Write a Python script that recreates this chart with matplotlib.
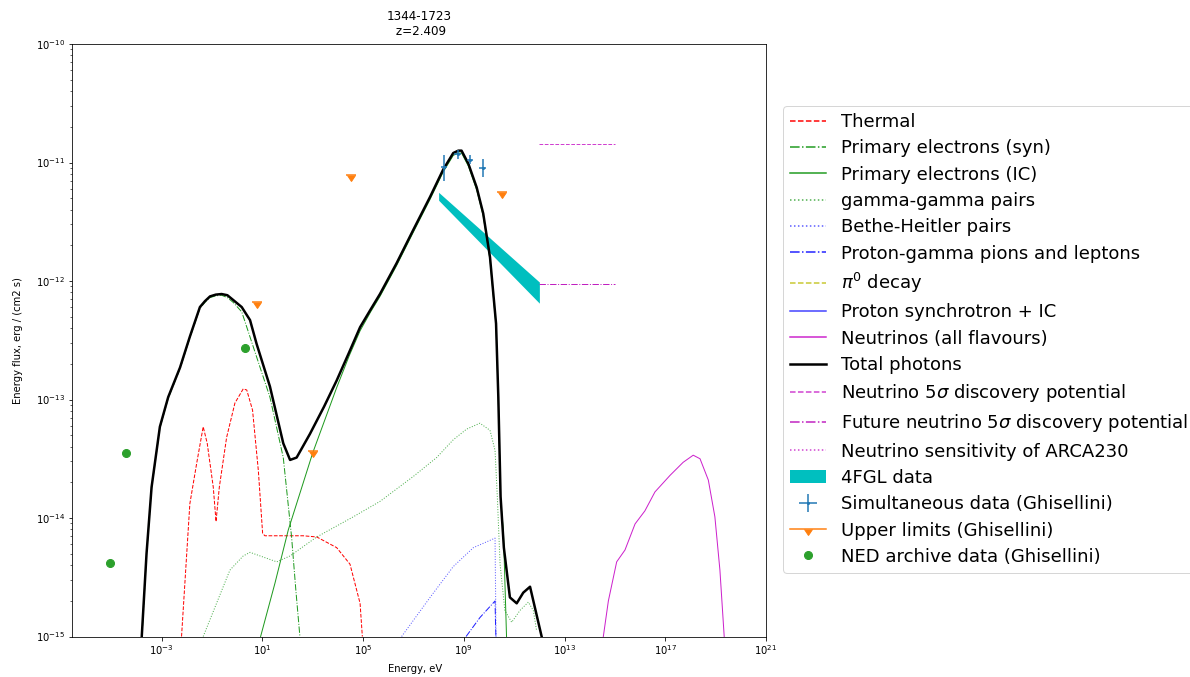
import numpy as np
import matplotlib
matplotlib.use("Agg")
import matplotlib.pyplot as plt
from matplotlib.ticker import NullLocator, LogLocator
from matplotlib.lines import Line2D

# ---- model curves (log10 E [eV], log10 flux [erg / (cm2 s)]) ----
total_logE = [-3.79, -3.60, -3.40, -3.07, -2.74, -2.27, -1.88, -1.48, -1.28, -1.08, -0.85,
              -0.62, -0.39, -0.16, 0.18, 0.51, 0.77, 1.30, 1.83, 2.10, 2.36, 2.89, 3.45,
              3.95, 4.45, 4.88, 5.30, 5.67, 6.33, 6.99, 7.66, 8.18, 8.58, 8.78, 8.91,
              9.18, 9.51, 9.77, 10.04, 10.28, 10.37, 10.46, 10.59, 10.83, 11.10, 11.36,
              11.63, 12.09]
total_logF = [-15.0, -14.3, -13.74, -13.23, -12.98, -12.73, -12.47, -12.22, -12.17, -12.13,
              -12.115, -12.11, -12.12, -12.16, -12.22, -12.33, -12.53, -12.89, -13.37,
              -13.51, -13.49, -13.29, -13.06, -12.84, -12.60, -12.39, -12.24, -12.11,
              -11.85, -11.57, -11.29, -11.06, -10.92, -10.90, -10.90, -11.01, -11.21,
              -11.43, -11.80, -12.36, -12.98, -13.82, -14.25, -14.67, -14.72, -14.63,
              -14.58, -15.0]

thermal_logE = [-2.21, -1.88, -1.61, -1.35, -1.19, -0.95, -0.84, -0.71, -0.42, -0.09, 0.24,
                0.38, 0.61, 0.84, 1.01, 1.10, 2.62, 3.16, 3.95, 4.48, 4.88, 4.97]
thermal_logF = [-15.0, -13.88, -13.54, -13.23, -13.37, -13.74, -14.03, -13.74, -13.32,
                -13.03, -12.91, -12.92, -13.09, -13.60, -14.13, -14.15, -14.15, -14.16,
                -14.25, -14.39, -14.72, -15.0]

syn_logE = [-3.78, -3.60, -3.40, -3.07, -2.74, -2.27, -1.88, -1.48, -1.28, -1.08, -0.85,
            -0.62, -0.39, -0.16, 0.18, 0.77, 1.30, 1.83, 2.16, 2.33, 2.49]
syn_logF = [-15.0, -14.31, -13.75, -13.24, -12.99, -12.74, -12.48, -12.23, -12.18, -12.14,
            -12.125, -12.12, -12.14, -12.18, -12.26, -12.64, -12.98, -13.49, -14.16,
            -14.61, -15.0]

ic_logE = [0.93, 1.50, 2.03, 3.00, 3.95, 4.45, 4.88, 5.30, 5.67, 6.33, 6.99, 7.66, 8.18,
           8.58, 8.78, 8.91, 9.18, 9.51, 9.77, 10.04, 10.28, 10.37, 10.46, 10.57, 10.70]
ic_logF = [-15.0, -14.55, -14.10, -13.45, -12.90, -12.63, -12.42, -12.26, -12.13, -11.87,
           -11.59, -11.31, -11.08, -10.94, -10.92, -10.92, -11.03, -11.23, -11.45, -11.82,
           -12.38, -13.00, -13.85, -14.10, -15.03]

gg_logE = [-1.35, -0.82, -0.29, 0.24, 0.51, 1.04, 1.57, 2.10, 3.16, 4.61, 5.67, 6.99, 7.92,
           8.58, 9.11, 9.64, 10.04, 10.24, 10.33, 10.44, 10.63, 10.90, 11.23, 11.56,
           11.76, 11.89]
gg_logF = [-15.0, -14.72, -14.44, -14.32, -14.29, -14.33, -14.37, -14.32, -14.16, -13.99,
           -13.86, -13.65, -13.49, -13.34, -13.25, -13.20, -13.26, -13.43, -13.82, -14.39,
           -14.78, -14.88, -14.78, -14.71, -14.78, -14.95]

bh_logE = [6.53, 7.66, 8.58, 9.38, 10.24, 10.26, 10.28]
bh_logF = [-15.0, -14.67, -14.41, -14.25, -14.17, -14.6, -15.05]

pg_logE = [9.09, 9.64, 10.24, 10.26, 10.28]
pg_logF = [-15.0, -14.84, -14.70, -14.9, -15.05]

nu_logE = [14.54, 14.74, 15.07, 15.40, 15.80, 16.19, 16.59, 17.19, 17.71, 18.11, 18.38,
           18.71, 18.97, 19.17, 19.34]
nu_logF = [-15.0, -14.70, -14.37, -14.27, -14.05, -13.94, -13.78, -13.64, -13.53, -13.47,
           -13.50, -13.68, -13.99, -14.44, -15.0]

# ---- neutrino telescope levels ----
disc_E = [1e12, 1e15]
disc_F = [1.43e-11, 1.43e-11]
future_E = [1e12, 1e15]
future_F = [9.5e-13, 9.5e-13]

# ---- 4FGL power-law band ----
fgl_E = [1e8, 1e12]
fgl_upper = [5.6e-12, 9.8e-13]
fgl_lower = [4.8e-12, 6.5e-13]

# ---- Ghisellini data ----
sim_logE = [8.22, 8.75, 9.24, 9.75]
sim_F = [9.2e-12, 1.18e-11, 1.05e-11, 8.9e-12]
sim_F_hi = [1.155e-11, 1.27e-11, 1.155e-11, 1.08e-11]
sim_F_lo = [7.0e-12, 1.08e-11, 9.7e-12, 7.6e-12]
sim_dlogE = 0.13

ul_logE = [0.77, 3.02, 4.51, 10.50]
ul_F = [6.6e-13, 3.7e-14, 7.9e-12, 5.6e-12]
ul_dlogE = 0.2

ned_E = [9.3e-6, 3.7e-5, 2.0]
ned_F = [4.2e-15, 3.55e-14, 2.7e-13]


def lin(v):
    return 10 ** np.asarray(v, dtype=float)


GREEN = '#1f9a1f'

fig = plt.figure(figsize=(1190 / 72, 677 / 72), dpi=72)
ax = fig.add_axes([72 / 1190, 1 - 636.5 / 677, (766 - 72) / 1190, (636.5 - 44) / 677])

h_th, = ax.plot(lin(thermal_logE), lin(thermal_logF), color='r', ls='--', lw=1)
h_syn, = ax.plot(lin(syn_logE), lin(syn_logF), color=GREEN, ls='-.', lw=1)
h_ic, = ax.plot(lin(ic_logE), lin(ic_logF), color=GREEN, ls='-', lw=1)
h_gg, = ax.plot(lin(gg_logE), lin(gg_logF), color=GREEN, ls=':', lw=1, alpha=0.8)
h_bh, = ax.plot(lin(bh_logE), lin(bh_logF), color='#3030ff', ls=':', lw=1, alpha=0.8)
h_pg, = ax.plot(lin(pg_logE), lin(pg_logF), color='#2020ff', ls='-.', lw=1)
h_pi, = ax.plot([], [], color='#c8c830', ls='--', lw=1)
h_ps, = ax.plot([], [], color='#4040ff', ls='-', lw=1)
h_nu, = ax.plot(lin(nu_logE), lin(nu_logF), color='#cc22cc', ls='-', lw=1)
h_tot, = ax.plot(lin(total_logE), lin(total_logF), color='k', ls='-', lw=2.5)
h_disc, = ax.plot(disc_E, disc_F, color='#d040d0', ls='--', lw=1)
h_fut, = ax.plot(future_E, future_F, color='#c020c0', ls='-.', lw=1)
h_sens, = ax.plot([], [], color='#d040d0', ls=':', lw=1)
h_fgl = ax.fill_between(fgl_E, fgl_lower, fgl_upper, color='c', lw=0)

sE = lin(sim_logE)
sF = np.asarray(sim_F)
h_sim = ax.errorbar(sE, sF,
                    xerr=[sE - sE / 10 ** sim_dlogE, sE * 10 ** sim_dlogE - sE],
                    yerr=[sF - np.asarray(sim_F_lo), np.asarray(sim_F_hi) - sF],
                    fmt='.', ms=4, color='tab:blue', lw=1.5)

uE = lin(ul_logE)
ax.errorbar(uE, ul_F, xerr=[uE - uE / 10 ** ul_dlogE, uE * 10 ** ul_dlogE - uE],
            fmt='none', ecolor='tab:orange', lw=1.5)
ax.plot(uE, ul_F, ls='none', marker=11, ms=8, color='tab:orange')

h_ned, = ax.plot(ned_E, ned_F, ls='none', marker='o', ms=8, color='tab:green')

ax.set_xscale('log')
ax.set_yscale('log')
ax.set_xlim(10 ** -6.56, 1e21)
ax.set_ylim(1e-15, 1e-10)
ax.set_xticks([1e-3, 1e1, 1e5, 1e9, 1e13, 1e17, 1e21])
ax.xaxis.set_minor_locator(NullLocator())
ax.set_yticks([1e-15, 1e-14, 1e-13, 1e-12, 1e-11, 1e-10])
ax.yaxis.set_minor_locator(LogLocator(base=10, subs=np.arange(2, 10)))

ax.set_xlabel('Energy, eV')
ax.set_ylabel('Energy flux, erg / (cm2 s)')
ax.yaxis.set_label_coords(-0.071, 0.5)
ax.xaxis.set_label_coords(0.494, -0.047)
ax.set_title('1344-1723\n z=2.409', pad=9)

ul_handle = (Line2D([], [], color='tab:orange', lw=1.5),
             Line2D([], [], ls='none', marker=11, ms=8, color='tab:orange'))

handles = [h_th, h_syn, h_ic, h_gg, h_bh, h_pg, h_pi, h_ps, h_nu, h_tot,
           h_disc, h_fut, h_sens, h_fgl, h_sim, ul_handle, h_ned]
labels = ['Thermal', 'Primary electrons (syn)', 'Primary electrons (IC)',
          'gamma-gamma pairs', 'Bethe-Heitler pairs', 'Proton-gamma pions and leptons',
          r'$\pi^0$ decay', 'Proton synchrotron + IC', 'Neutrinos (all flavours)',
          'Total photons', r'Neutrino 5$\sigma$ discovery potential',
          r'Future neutrino 5$\sigma$ discovery potential',
          'Neutrino sensitivity of ARCA230', '4FGL data',
          'Simultaneous data (Ghisellini)', 'Upper limits (Ghisellini)',
          'NED archive data (Ghisellini)']
leg = ax.legend(handles, labels, loc='center left',
                bbox_to_anchor=(783 / 1190, 1 - 339.5 / 677),
                bbox_transform=fig.transFigure, borderaxespad=0, fontsize=18,
                labelspacing=0.46, numpoints=1)

# slightly heavier sample lines in the key so thin styles stay readable
for hl in leg.get_lines():
    if hl.get_linestyle() != 'None' and hl.get_linewidth() <= 1.0:
        hl.set_linewidth(1.5)

fig.savefig('out.png', dpi=72)
